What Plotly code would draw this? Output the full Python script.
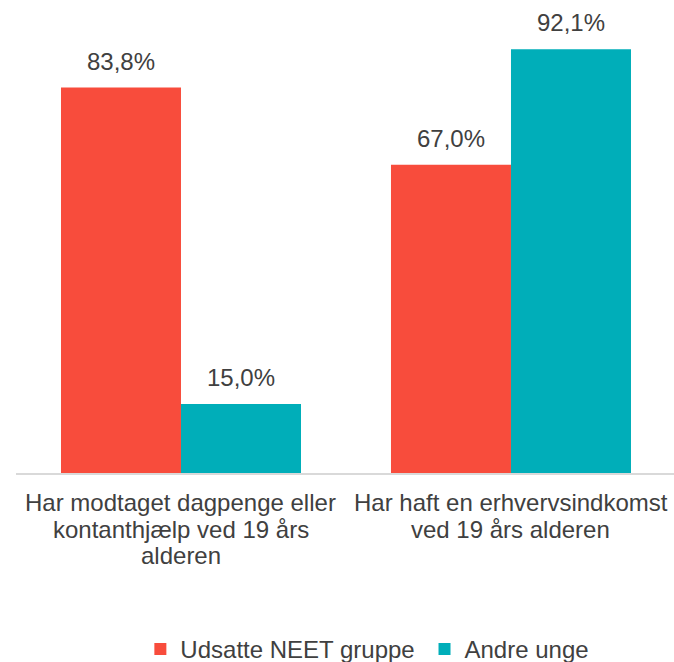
import plotly.graph_objects as go

categories = ["Har modtaget dagpenge eller kontanthjælp ved 19 års alderen",
              "Har haft en erhvervsindkomst ved 19 års alderen"]
category_lines = [["Har modtaget dagpenge eller", "kontanthjælp ved 19 års", "alderen"],
                  ["Har haft en erhvervsindkomst", "ved 19 års alderen"]]
series_names = ["Udsatte NEET gruppe", "Andre unge"]
neet_values = [83.8, 67.0]
andre_values = [15.0, 92.1]
colors = ["#F84C3C", "#00AEB9"]

FONT = "Liberation Sans"
TXT = "#404040"
FS = 24

def fmt(v):
    return f"{v:.1f}".replace(".", ",") + "%"

fig = go.Figure()
for i, (name, vals, col) in enumerate(zip(series_names, [neet_values, andre_values], colors)):
    fig.add_trace(go.Bar(
        x=categories, y=vals, name=name + ("\u2009" if i == 0 else ""),
        marker_color=col, marker_line_width=0,
    ))

annotations = []
# value labels above bars
for si, vals in enumerate([neet_values, andre_values]):
    for cat, v in zip(categories, vals):
        annotations.append(dict(
            x=cat, y=v, xref="x", yref="y", text=fmt(v), showarrow=False,
            xanchor="center", yanchor="bottom", xshift=(-60 if si == 0 else 60), yshift=11,
            font=dict(family=FONT, size=FS, color=TXT),
        ))
# category labels (one annotation per line, tighter line spacing)
for cat, lines in zip(categories, category_lines):
    for li, line in enumerate(lines):
        annotations.append(dict(
            x=cat, y=0, xref="x", yref="y", text=line, showarrow=False,
            xanchor="center", yanchor="top", yshift=-(14 + li * 26.7),
            font=dict(family=FONT, size=FS, color=TXT),
        ))

fig.update_layout(
    width=674, height=662,
    margin=dict(l=16, r=0, t=13, b=189, autoexpand=False),
    plot_bgcolor="white", paper_bgcolor="white",
    barmode="group", bargap=0.2727, bargroupgap=0,
    font=dict(family=FONT, size=FS, color=TXT),
    showlegend=True,
    hovermode=False,
    legend=dict(orientation="h", x=0.189, xanchor="left", y=-0.3835, yanchor="middle",
                font=dict(family=FONT, size=FS, color=TXT), traceorder="normal"),
    xaxis=dict(showline=True, linecolor="#D9D9D9", linewidth=1.5, ticks="",
               showticklabels=False, range=[-0.5, 1.494]),
    yaxis=dict(range=[0, 100], visible=False, showgrid=False),
    annotations=annotations,
)
fig.write_html(
    "out.html",
    config={"displayModeBar": False},
    post_script="document.body.style.margin='0';document.body.style.overflow='hidden';",
)
